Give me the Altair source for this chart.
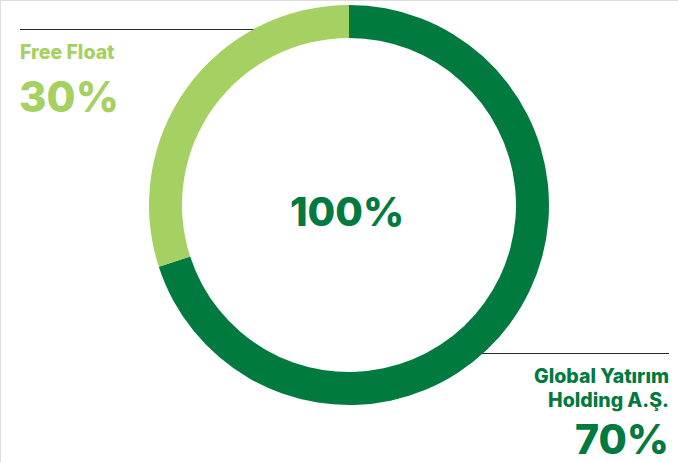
import altair as alt
import pandas as pd

categories = ["Global Yatırım Holding A.Ş.", "Free Float"]
shares = [70, 30]
share_labels = ["70%", "30%"]
name_lines = [["Global Yatırım", "Holding A.Ş."], ["Free Float"]]
colors = ["#007a3e", "#a5d062"]
total_label = "100%"

df = pd.DataFrame({"category": categories, "share": shares, "order": [0, 1]})

W, H = 678, 462
CX, CY = 349, 205
R_OUT, R_IN = 200, 167

base_font = "Inter"
W_BOLD = 800

rules = alt.Chart(pd.DataFrame({"x": [20, 470], "x2": [300, 669], "y": [29.5, 353.5]})).mark_rule(
    color="#2a2a2a", strokeWidth=1
).encode(
    x=alt.X("x:Q", scale=None), x2="x2:Q", y=alt.Y("y:Q", scale=None)
)

arc = alt.Chart(df).mark_arc(outerRadius=R_OUT, innerRadius=R_IN, stroke=None).encode(
    theta=alt.Theta("share:Q", stack=True),
    order=alt.Order("order:Q"),
    color=alt.Color("category:N", scale=alt.Scale(domain=categories, range=colors), legend=None),
    x=alt.value(CX),
    y=alt.value(CY),
)

def label(text, size, color, align, x, y):
    return alt.Chart(pd.DataFrame({"t": [text]})).mark_text(
        font=base_font, fontWeight=W_BOLD, fontSize=size, color=color, align=align,
        baseline="alphabetic"
    ).encode(text="t:N", x=alt.value(x), y=alt.value(y))

center = label(total_label, 40, colors[0], "center", 347, 226)
ff_name = label(name_lines[1][0], 19.5, colors[1], "left", 20, 59)
ff_val = label(share_labels[1], 42, colors[1], "left", 19, 112)
gy_name1 = label(name_lines[0][0], 19.5, colors[0], "right", 669, 383)
gy_name2 = label(name_lines[0][1], 19.5, colors[0], "right", 669, 407)
gy_val = label(share_labels[0], 41, colors[0], "right", 669, 454)

chart = alt.layer(rules, arc, center, ff_name, ff_val, gy_name1, gy_name2, gy_val).properties(
    width=W, height=H, padding=0, autosize=alt.AutoSizeParams(type="none")
).configure_view(stroke=None).configure(background="white")

chart.save("out.html", embed_options={"renderer": "svg", "actions": False})
